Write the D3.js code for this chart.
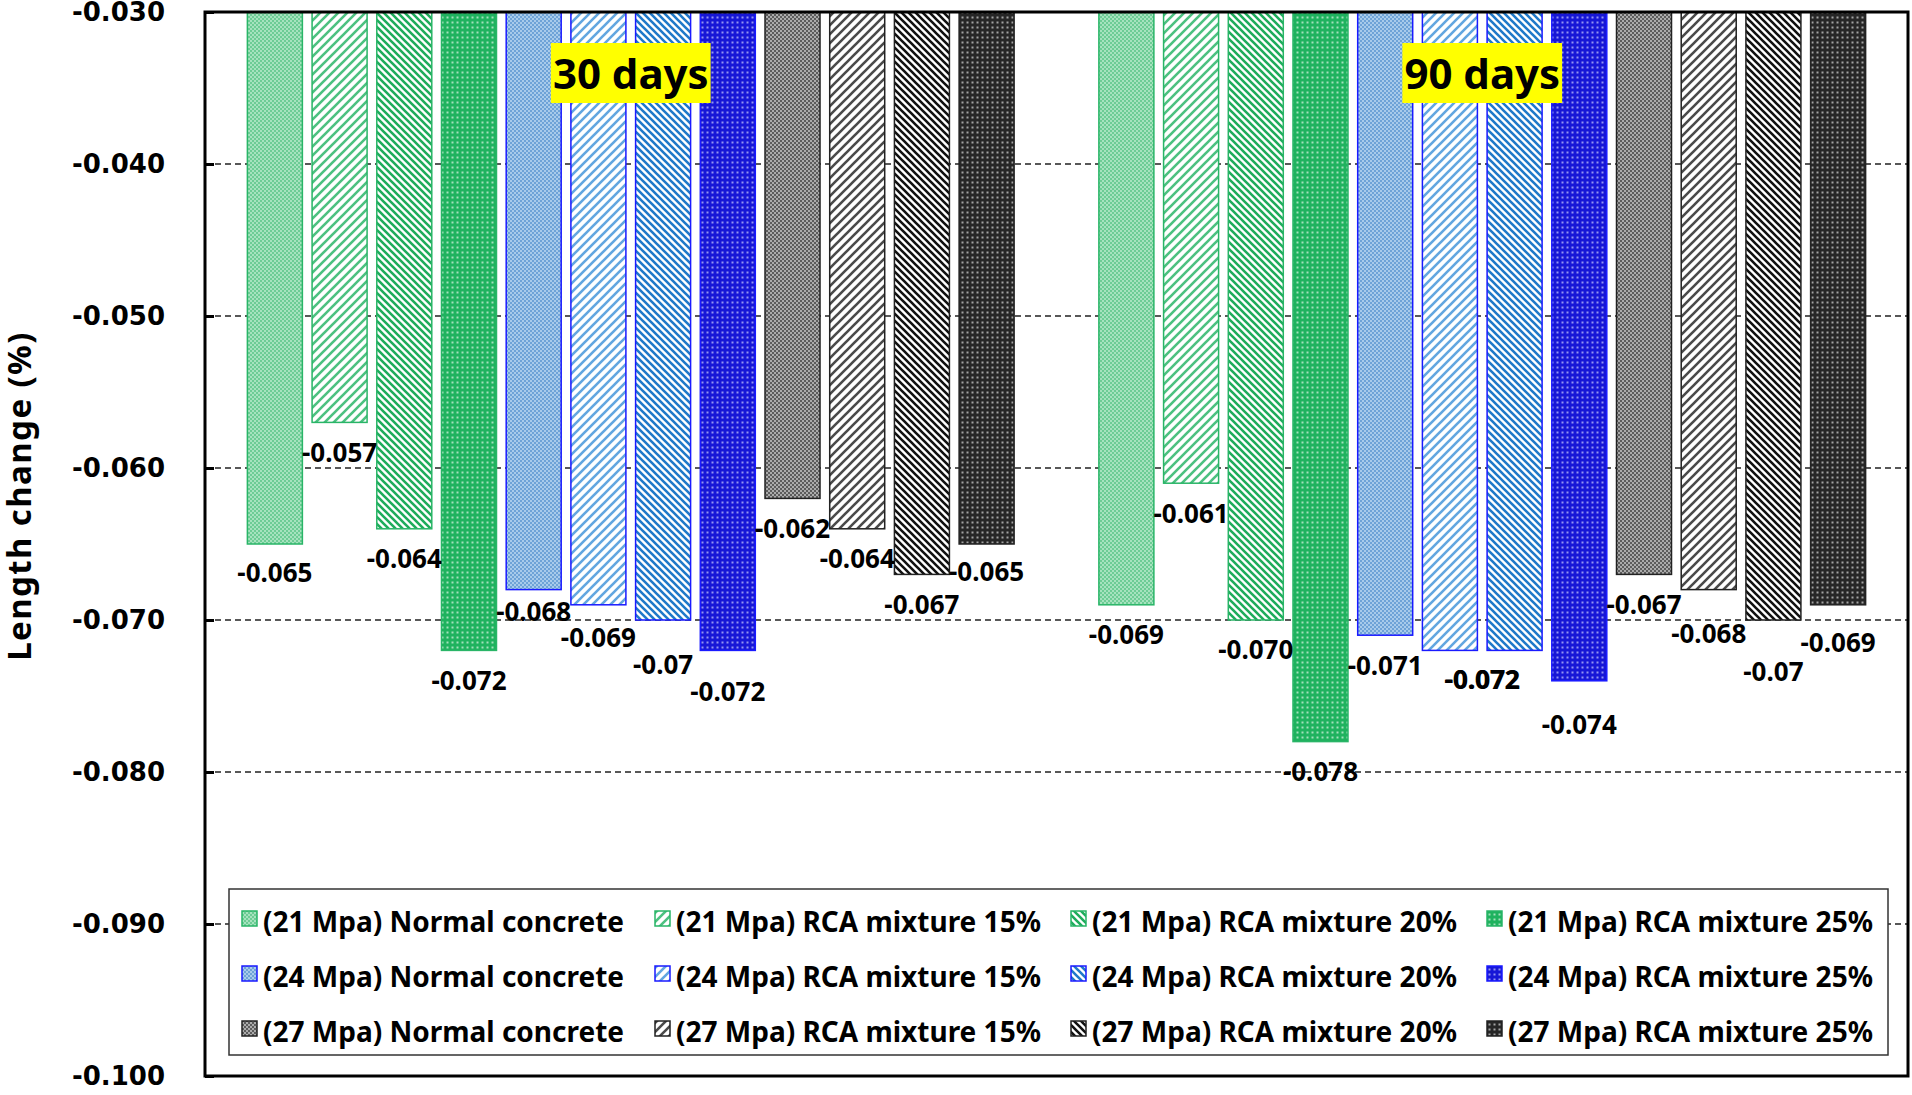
<!DOCTYPE html>
<html>
<head>
<meta charset="utf-8">
<script src="https://cdn.jsdelivr.net/npm/d3@7"></script>
<style>
body{margin:0;background:#fff}
svg{display:block}
</style>
</head>
<body>
<div id="chart"></div>
<script>
// data
var groups = ["30 days", "90 days"];
var series = [
  "(21 Mpa) Normal concrete", "(21 Mpa) RCA mixture 15%", "(21 Mpa) RCA mixture 20%", "(21 Mpa) RCA mixture 25%",
  "(24 Mpa) Normal concrete", "(24 Mpa) RCA mixture 15%", "(24 Mpa) RCA mixture 20%", "(24 Mpa) RCA mixture 25%",
  "(27 Mpa) Normal concrete", "(27 Mpa) RCA mixture 15%", "(27 Mpa) RCA mixture 20%", "(27 Mpa) RCA mixture 25%"
];
var values30 = [-0.065, -0.057, -0.064, -0.072, -0.068, -0.069, -0.070, -0.072, -0.062, -0.064, -0.067, -0.065];
var values90 = [-0.069, -0.061, -0.070, -0.078, -0.071, -0.072, -0.072, -0.074, -0.067, -0.068, -0.070, -0.069];
var labels30 = ["-0.065", "-0.057", "-0.064", "-0.072", "-0.068", "-0.069", "-0.07", "-0.072", "-0.062", "-0.064", "-0.067", "-0.065"];
var labels90 = ["-0.069", "-0.061", "-0.070", "-0.078", "-0.071", "-0.072", "-0.072", "-0.074", "-0.067", "-0.068", "-0.07", "-0.069"];
var tickValues = [-0.03, -0.04, -0.05, -0.06, -0.07, -0.08, -0.09, -0.10];
var tickLabels = ["-0.030", "-0.040", "-0.050", "-0.060", "-0.070", "-0.080", "-0.090", "-0.100"];

// label nudges below the bar end (px), like the original placement
var labelDy30 = [29, 30, 30, 30, 22, 33, 45, 41, 30, 30, 30, 28];
var labelDy90 = [30, 30, 30, 30, 30, 29, 29, 44, 30, 44, 52, 38];
var labelDx90 = [0, 0, 0, 0, 0, 32, -32, 0, 0, 0, 0, 0];

// styles (one entry per strength family)
var familyStyle = [
  {light:"#a6e3be", dark:"#6dcc95", line15:"#4cc180", line20:"#1eac5b", solid:"#1fb25e", dot:"#a3e1bb", edge:"#29b567"},
  {light:"#a8cbeb", dark:"#6ea3d7", line15:"#62a6e0", line20:"#1f79c9", solid:"#1717d6", dot:"#9494f2", edge:"#1a1aff"},
  {light:"#ababab", dark:"#5c5c5c", line15:"#4a4a4a", line20:"#111111", solid:"#262626", dot:"#a3a3a3", edge:"#222222"}
];

var width = 1912, height = 1095;
var plot = {left:205, right:1908, top:12, bottom:1076};

var svg = d3.select("#chart").append("svg").attr("width", width).attr("height", height);
var defs = svg.append("defs");

series.forEach(function(s, i){
  var st = familyStyle[Math.floor(i/4)], kind = i % 4;
  var p = defs.append("pattern").attr("id", "p" + i).attr("patternUnits", "userSpaceOnUse");
  if(kind == 0){
    p.attr("width", 4).attr("height", 4);
    p.append("rect").attr("width", 4).attr("height", 4).attr("fill", st.light);
    p.append("rect").attr("width", 2).attr("height", 2).attr("fill", st.dark);
    p.append("rect").attr("x", 2).attr("y", 2).attr("width", 2).attr("height", 2).attr("fill", st.dark);
  } else if(kind == 1){
    p.attr("width", 9).attr("height", 9);
    p.append("rect").attr("width", 9).attr("height", 9).attr("fill", "#fff");
    p.append("path").attr("d", "M0,9 L9,0 M-1,1 L1,-1 M8,10 L10,8").attr("stroke", st.line15).attr("stroke-width", 2.6);
  } else if(kind == 2){
    p.attr("width", 7).attr("height", 7);
    p.append("rect").attr("width", 7).attr("height", 7).attr("fill", "#fff");
    p.append("path").attr("d", "M0,0 L7,7 M-1,6 L1,8 M6,-1 L8,1").attr("stroke", st.line20).attr("stroke-width", 2.6);
  } else {
    p.attr("width", 5).attr("height", 5);
    p.append("rect").attr("width", 5).attr("height", 5).attr("fill", st.solid);
    p.append("rect").attr("x", 1.5).attr("y", 1.5).attr("width", 2).attr("height", 2).attr("fill", st.dot);
  }
});

var y = d3.scaleLinear().domain([-0.03, -0.1]).range([plot.top, plot.bottom]);
var x0 = d3.scaleBand().domain(groups).range([plot.left, plot.right]);
var x1 = d3.scaleBand().domain(d3.range(series.length)).range([0, x0.bandwidth()])
  .paddingInner(0.15).paddingOuter(0.655);

// dashed grid
svg.append("g").selectAll("line").data(tickValues).enter().append("line")
  .attr("x1", plot.left).attr("x2", plot.right)
  .attr("y1", d => y(d)).attr("y2", d => y(d))
  .attr("stroke", "#222").attr("stroke-width", 1.5).attr("stroke-dasharray", "6,4");

var rows = [];
groups.forEach(function(g, gi){
  var vals = gi == 0 ? values30 : values90;
  var labs = gi == 0 ? labels30 : labels90;
  vals.forEach(function(v, i){
    rows.push({g:g, i:i, v:v, label:labs[i],
      dy: gi == 0 ? labelDy30[i] : labelDy90[i],
      dx: gi == 0 ? 0 : labelDx90[i]});
  });
});

svg.append("g").selectAll("rect").data(rows).enter().append("rect")
  .attr("x", d => x0(d.g) + x1(d.i))
  .attr("y", y(-0.03))
  .attr("width", x1.bandwidth())
  .attr("height", d => y(d.v) - y(-0.03))
  .attr("fill", d => "url(#p" + d.i + ")")
  .attr("stroke", d => familyStyle[Math.floor(d.i/4)].edge)
  .attr("stroke-width", 1.5);

svg.append("g").selectAll("text").data(rows).enter().append("text")
  .attr("x", d => x0(d.g) + x1(d.i) + x1.bandwidth()/2 + d.dx)
  .attr("y", d => y(d.v) + d.dy)
  .attr("dy", "0.36em")
  .attr("text-anchor", "middle")
  .attr("font-family", "Noto Sans")
  .attr("font-weight", "bold")
  .attr("font-size", "26px")
  .text(d => d.label);

// frame
svg.append("rect").attr("x", plot.left).attr("y", plot.top)
  .attr("width", plot.right - plot.left).attr("height", plot.bottom - plot.top)
  .attr("fill", "none").attr("stroke", "#000").attr("stroke-width", 3);

var yAxis = d3.axisLeft(y).tickValues(tickValues).tickSize(-9).tickPadding(40)
  .tickFormat((d, i) => tickLabels[i]);
var ax = svg.append("g").attr("transform", "translate(" + plot.left + ",0)").call(yAxis);
ax.select(".domain").remove();
ax.selectAll(".tick line").attr("stroke", "#000").attr("stroke-width", 3);
ax.selectAll(".tick text").attr("font-family", "DejaVu Sans").attr("font-weight", "bold")
  .attr("font-size", "26px").attr("fill", "#000");

svg.append("text")
  .attr("transform", "translate(31,496) rotate(-90)")
  .attr("text-anchor", "middle")
  .attr("font-family", "Noto Sans").attr("font-weight", "bold").attr("font-size", "33px")
  .attr("letter-spacing", "1.4px")
  .text("Length change (%)");

// group labels
groups.forEach(function(g){
  var cx = x0(g) + x0.bandwidth()/2;
  var lg = svg.append("g");
  var t = lg.append("text").attr("x", cx).attr("y", 89).attr("text-anchor", "middle")
    .attr("font-family", "Noto Sans").attr("font-weight", "bold").attr("font-size", "42px").text(g);
  var bb = t.node().getBBox();
  lg.insert("rect", "text").attr("x", bb.x - 2).attr("y", 43).attr("width", bb.width + 4).attr("height", 60)
    .attr("fill", "#ffff00");
});

// legend
var legend = svg.append("g");
legend.append("rect").attr("x", 229).attr("y", 889).attr("width", 1659).attr("height", 166)
  .attr("fill", "#fff").attr("stroke", "#333").attr("stroke-width", 1.5);
var colX = [242, 655, 1071, 1487];
var rowY = [922, 977, 1032];
var items = legend.selectAll("g.item").data(series).enter().append("g").attr("class", "item")
  .attr("transform", (d, i) => "translate(" + colX[i % 4] + "," + rowY[Math.floor(i/4)] + ")");
items.append("rect").attr("x", 0).attr("y", -11).attr("width", 15).attr("height", 15)
  .attr("fill", (d, i) => "url(#p" + i + ")")
  .attr("stroke", (d, i) => familyStyle[Math.floor(i/4)].edge).attr("stroke-width", 1.5);
items.append("text").attr("x", 21).attr("y", 0).attr("dy", "0.36em")
  .attr("font-family", "Noto Sans").attr("font-weight", "bold").attr("font-size", "28px")
  .text(d => d);
</script>
</body>
</html>
